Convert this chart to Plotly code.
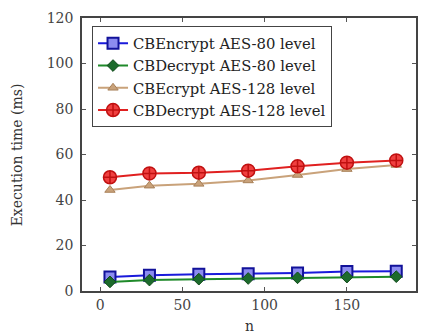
import plotly.graph_objects as go

n_values = [6, 30, 60, 90, 120, 150, 180]
cbencrypt_80 = [6.2, 6.9, 7.4, 7.6, 7.9, 8.6, 8.7]
cbdecrypt_80 = [4.0, 4.8, 5.2, 5.5, 5.8, 6.1, 6.3]
cbecrypt_128 = [44.4, 46.3, 47.1, 48.6, 51.0, 53.6, 55.4]
cbdecrypt_128 = [50.0, 51.7, 52.0, 52.9, 54.8, 56.4, 57.4]

names = ["CBEncrypt AES-80 level", "CBDecrypt AES-80 level",
         "CBEcrypt AES-128 level", "CBDecrypt AES-128 level"]
x_title = "n"
y_title = "Execution time (ms)"

FONT = "'DejaVu Serif', serif"

fig = go.Figure()
fig.add_trace(go.Scatter(
    x=n_values, y=cbencrypt_80, name=names[0], mode="lines+markers",
    line=dict(color="#1a1adb", width=2),
    marker=dict(symbol="square", size=11, color="#8c8cf0",
                line=dict(color="#12129a", width=2))))
fig.add_trace(go.Scatter(
    x=n_values, y=cbdecrypt_80, name=names[1], mode="lines+markers",
    line=dict(color="#1f8a2a", width=2),
    marker=dict(symbol="diamond", size=9, color="#1c6b2c",
                line=dict(color="#104a1a", width=1))))
fig.add_trace(go.Scatter(
    x=n_values, y=cbecrypt_128, name=names[2], mode="lines+markers",
    line=dict(color="#c9a27a", width=2),
    marker=dict(symbol="triangle-up", size=9, color="#c9a27a",
                line=dict(color="#a88058", width=1))))
fig.add_trace(go.Scatter(
    x=n_values, y=cbdecrypt_128, name=names[3], mode="lines+markers",
    line=dict(color="#e02020", width=2),
    marker=dict(symbol="circle-cross", size=13, color="#f04040",
                line=dict(color="#c01010", width=1.5))))

fig.update_layout(
    width=424, height=333,
    margin=dict(l=82, r=8, t=18, b=42),
    paper_bgcolor="white", plot_bgcolor="white",
    font=dict(family=FONT, size=14, color="#333333"),
    showlegend=True,
    legend=dict(x=0.03, y=0.97, xanchor="left", yanchor="top",
                bgcolor="white", bordercolor="#444444", borderwidth=1,
                font=dict(family=FONT, size=14.8, color="#222222"),
                tracegroupgap=0, itemwidth=30),
    annotations=[
        dict(text=y_title, xref="paper", yref="paper", x=-0.195, y=0.5,
             xanchor="center", yanchor="middle", textangle=-90, showarrow=False,
             font=dict(family=FONT, size=14, color="#333333")),
        dict(text=x_title, xref="paper", yref="paper", x=0.5, y=-0.13,
             xanchor="center", yanchor="middle", showarrow=False,
             font=dict(family=FONT, size=14, color="#333333")),
    ],
)
fig.update_xaxes(
    range=[-11, 192], tickvals=[0, 50, 100, 150], ticktext=["0", "50", "100", "150"],
    ticks="inside", ticklen=4, tickcolor="#555555", mirror="ticks", automargin=False,
    showline=True, linecolor="#444444", linewidth=1.5, showgrid=False, zeroline=False,
    tickfont=dict(family=FONT, size=14, color="#444444"))
fig.update_yaxes(
    range=[0, 120], tickvals=[0, 20, 40, 60, 80, 100, 120],
    ticks="inside", ticklen=4, tickcolor="#555555", mirror="ticks", automargin=False,
    showline=True, linecolor="#444444", linewidth=1.5, showgrid=False, zeroline=False,
    ticklabelstandoff=4,
    tickfont=dict(family=FONT, size=14, color="#444444"))

fig.write_html("out.html", config={"displayModeBar": False},
               post_script="document.body.style.margin='0';")
